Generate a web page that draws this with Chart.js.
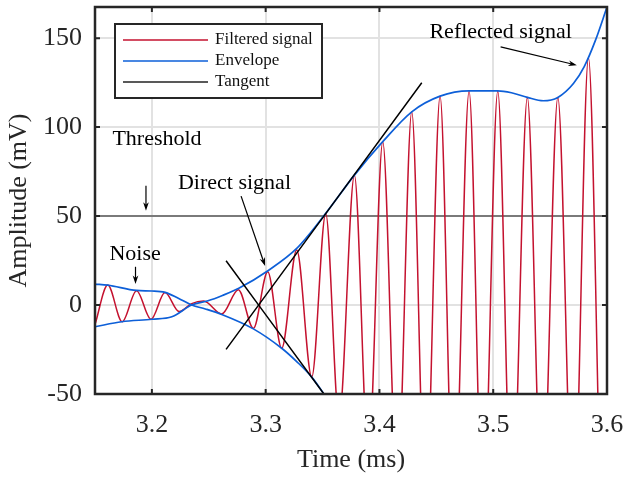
<!DOCTYPE html>
<html>
<head>
<meta charset="utf-8">
<script src="https://cdn.jsdelivr.net/npm/chart.js@4.4.0/dist/chart.umd.min.js"></script>
<style>
  html, body { margin: 0; padding: 0; background: #fff; }
  #wrap { width: 626px; height: 477px; }
</style>
</head>
<body>
<div id="wrap"><canvas id="signal-chart" width="626" height="477"></canvas></div>
<script>
// time in ms, amplitude in mV (peaks and troughs)
var signalTime = [3.1500, 3.1612, 3.1739, 3.1865, 3.1992, 3.2115, 3.2240, 3.2350, 3.2455, 3.2614,
                  3.2760, 3.2892, 3.3018, 3.3141, 3.3273, 3.3405, 3.3528, 3.3645, 3.3780, 3.3903,
                  3.4029, 3.4157, 3.4284, 3.4405, 3.4533, 3.4654, 3.4788, 3.4910, 3.5040, 3.5165,
                  3.5300, 3.5430, 3.5568, 3.5705, 3.5837, 3.5975, 3.6000];
var signalAmp = [-11.0, 11.2, -9.4, 8.0, -8.0, 7.0, -3.7, 0.8, 2.2, -5.0,
                 8.6, -13.1, 18.7, -24.3, 30.9, -40.5, 51.5, -64, 73.0, -86,
                 91.8, -104, 108.6, -116, 117.4, -122, 120.2, -123, 120.2, -121,
                 116.7, -118, 116.7, -128, 139.0, -155, -145];

// envelope, two branches that cross near 3.235 ms
var envATime = [3.1500, 3.1612, 3.1865, 3.2000, 3.2115, 3.2232, 3.2350, 3.2470, 3.2614, 3.2892,
                3.3141, 3.3273, 3.3405, 3.3512, 3.3600];
var envAAmp = [11.8, 11.2, 8.2, 7.9, 7.1, 3.8, 0.0, -2.2, -5.3, -13.4,
               -24.3, -31.8, -40.5, -50.0, -58.0];
var envBTime = [3.1500, 3.1735, 3.2000, 3.2175, 3.2350, 3.2493, 3.2620, 3.2764, 3.3020, 3.3273,
                3.3528, 3.3780, 3.4029, 3.4284, 3.4533, 3.4788, 3.5040, 3.5160, 3.5300, 3.5440,
                3.5568, 3.5705, 3.5800, 3.5900, 3.6000];
var envBAmp = [-12.2, -9.4, -8.0, -6.6, 0.0, 2.4, 5.4, 9.4, 19.3, 31.8,
               51.5, 73.0, 91.8, 108.6, 117.4, 120.4, 120.4, 119.3, 116.7, 114.8,
               116.7, 124.5, 134.0, 149.0, 167.5];

// tangent lines
var tanUpTime = [3.2652, 3.4372];
var tanUpAmp = [-24.9, 124.9];
var tanDownTime = [3.2652, 3.3512];
var tanDownAmp = [24.9, -50.0];

var thresholdLevel = 50;
var xRange = [3.15, 3.6];
var yRange = [-50, 167.5];
var xTicks = [3.2, 3.3, 3.4, 3.5, 3.6];
var yTicks = [-50, 0, 50, 100, 150];
var legendLabels = ['Filtered signal', 'Envelope', 'Tangent'];

// text notes with arrows (data units)
var notes = [
    { text: 'Reflected signal', at: [3.5065, 153.4], from: [3.5065, 145.1], to: [3.5735, 134.8] },
    { text: 'Threshold', at: [3.2045, 93.3], from: [3.1948, 67.0], to: [3.1948, 53.0] },
    { text: 'Direct signal', at: [3.2726, 68.5], from: [3.2784, 61.2], to: [3.2995, 21.9] },
    { text: 'Noise', at: [3.1852, 28.3], from: [3.1856, 21.5], to: [3.1856, 11.8] }
];

var RED = '#c4122f';
var BLUE = '#0d5fd8';
var INK = '#262626';
var SERIF = "'Liberation Serif', 'Times New Roman', serif";

function pts(xs, ys) {
    return xs.map(function(x, i) { return { x: x, y: ys[i] }; });
}

function drawArrow(ctx, x1, y1, x2, y2) {
    var a = Math.atan2(y2 - y1, x2 - x1), h = 9, w = 0.32;
    ctx.beginPath();
    ctx.moveTo(x1, y1);
    ctx.lineTo(x2 - 3 * Math.cos(a), y2 - 3 * Math.sin(a));
    ctx.stroke();
    ctx.beginPath();
    ctx.moveTo(x2, y2);
    ctx.lineTo(x2 - h * Math.cos(a - w), y2 - h * Math.sin(a - w));
    ctx.lineTo(x2 - 6 * Math.cos(a), y2 - 6 * Math.sin(a));
    ctx.lineTo(x2 - h * Math.cos(a + w), y2 - h * Math.sin(a + w));
    ctx.closePath();
    ctx.fill();
}

// frame, inward ticks, notes and the boxed legend
var decorations = {
    id: 'decorations',
    afterDraw: function(chart) {
        var ctx = chart.ctx, a = chart.chartArea;
        var xs = chart.scales.x, ys = chart.scales.y;
        ctx.save();

        // notes
        ctx.fillStyle = '#000';
        ctx.strokeStyle = '#000';
        ctx.lineWidth = 1.2;
        ctx.font = '22px ' + SERIF;
        ctx.textAlign = 'center';
        ctx.textBaseline = 'middle';
        notes.forEach(function(n) {
            ctx.fillText(n.text, xs.getPixelForValue(n.at[0]), ys.getPixelForValue(n.at[1]));
            drawArrow(ctx, xs.getPixelForValue(n.from[0]), ys.getPixelForValue(n.from[1]),
                      xs.getPixelForValue(n.to[0]), ys.getPixelForValue(n.to[1]));
        });

        // axes box
        ctx.strokeStyle = INK;
        ctx.lineWidth = 2.5;
        ctx.strokeRect(a.left, a.top, a.right - a.left, a.bottom - a.top);
        ctx.lineWidth = 2;
        ctx.beginPath();
        xTicks.forEach(function(v) {
            var px = xs.getPixelForValue(v);
            ctx.moveTo(px, a.bottom); ctx.lineTo(px, a.bottom - 5);
            ctx.moveTo(px, a.top); ctx.lineTo(px, a.top + 5);
        });
        yTicks.forEach(function(v) {
            var py = ys.getPixelForValue(v);
            ctx.moveTo(a.left, py); ctx.lineTo(a.left + 5, py);
            ctx.moveTo(a.right, py); ctx.lineTo(a.right - 5, py);
        });
        ctx.stroke();

        // legend
        var lx = a.left + 20, ly = a.top + 17, lw = 207, lh = 74;
        ctx.fillStyle = '#fff';
        ctx.fillRect(lx, ly, lw, lh);
        ctx.strokeStyle = INK;
        ctx.lineWidth = 2;
        ctx.strokeRect(lx, ly, lw, lh);
        var colors = [RED, BLUE, '#222'];
        ctx.font = '17px ' + SERIF;
        ctx.textAlign = 'left';
        legendLabels.forEach(function(label, i) {
            var ry = ly + 16 + i * 21;
            ctx.strokeStyle = colors[i];
            ctx.lineWidth = 1.5;
            ctx.beginPath();
            ctx.moveTo(lx + 8, ry); ctx.lineTo(lx + 93, ry);
            ctx.stroke();
            ctx.fillStyle = '#111';
            ctx.fillText(label, lx + 100, ry);
        });
        ctx.restore();
    }
};

// keep the tick labels from pushing the plot area in
function noOverhang(s) {
    s.paddingTop = 0;
    s.paddingBottom = 0;
    s.paddingLeft = 0;
    s.paddingRight = 0;
}

function initSignalChart() {
    var ctx = document.getElementById('signal-chart').getContext('2d');
    var lineBase = { pointRadius: 0, fill: false, cubicInterpolationMode: 'monotone' };

    new Chart(ctx, {
        type: 'line',
        data: {
            datasets: [
                Object.assign({ label: 'Tangent', data: pts(tanUpTime, tanUpAmp),
                    borderColor: '#000', borderWidth: 1.5, order: 0 }, lineBase),
                Object.assign({ label: 'Tangent 2', data: pts(tanDownTime, tanDownAmp),
                    borderColor: '#000', borderWidth: 1.5, order: 0 }, lineBase),
                Object.assign({ label: 'Envelope', data: pts(envATime, envAAmp),
                    borderColor: BLUE, borderWidth: 1.7, order: 1 }, lineBase),
                Object.assign({ label: 'Envelope 2', data: pts(envBTime, envBAmp),
                    borderColor: BLUE, borderWidth: 1.7, order: 1 }, lineBase),
                Object.assign({ label: 'Filtered signal', data: pts(signalTime, signalAmp),
                    borderColor: RED, borderWidth: 1.5, order: 2 }, lineBase),
                Object.assign({ label: 'Threshold', data: pts(xRange, [thresholdLevel, thresholdLevel]),
                    borderColor: '#7a7a7a', borderWidth: 2, order: 3 }, lineBase)
            ]
        },
        options: {
            responsive: false,
            animation: false,
            devicePixelRatio: 1,
            layout: { padding: { top: 7, right: 19, left: 0, bottom: 0 } },
            plugins: {
                legend: { display: false },
                tooltip: { enabled: false }
            },
            scales: {
                x: {
                    type: 'linear',
                    min: xRange[0],
                    max: xRange[1],
                    afterBuildTicks: function(s) { s.ticks = xTicks.map(function(v) { return { value: v }; }); },
                    afterFit: function(s) { s.height = 83; noOverhang(s); },
                    ticks: {
                        callback: function(v) { return v.toFixed(1); },
                        font: { family: SERIF, size: 26 },
                        color: INK,
                        padding: 16,
                        maxRotation: 0,
                        autoSkip: false
                    },
                    grid: { color: '#e2e2e2', lineWidth: 2, drawTicks: false },
                    border: { display: false },
                    title: { display: true, text: 'Time (ms)', color: INK,
                             font: { family: SERIF, size: 26 }, padding: { top: 0, bottom: 1 } }
                },
                y: {
                    type: 'linear',
                    min: yRange[0],
                    max: yRange[1],
                    afterBuildTicks: function(s) { s.ticks = yTicks.map(function(v) { return { value: v }; }); },
                    afterFit: function(s) { s.width = 95; noOverhang(s); },
                    ticks: {
                        font: { family: SERIF, size: 26 },
                        color: INK,
                        padding: 13
                    },
                    grid: { color: '#e2e2e2', lineWidth: 2, drawTicks: false },
                    border: { display: false },
                    title: { display: true, text: 'Amplitude (mV)', color: INK,
                             font: { family: SERIF, size: 26 }, padding: { top: 4, bottom: 0 } }
                }
            }
        },
        plugins: [decorations]
    });
}
document.addEventListener('DOMContentLoaded', initSignalChart);
</script>
</body>
</html>
